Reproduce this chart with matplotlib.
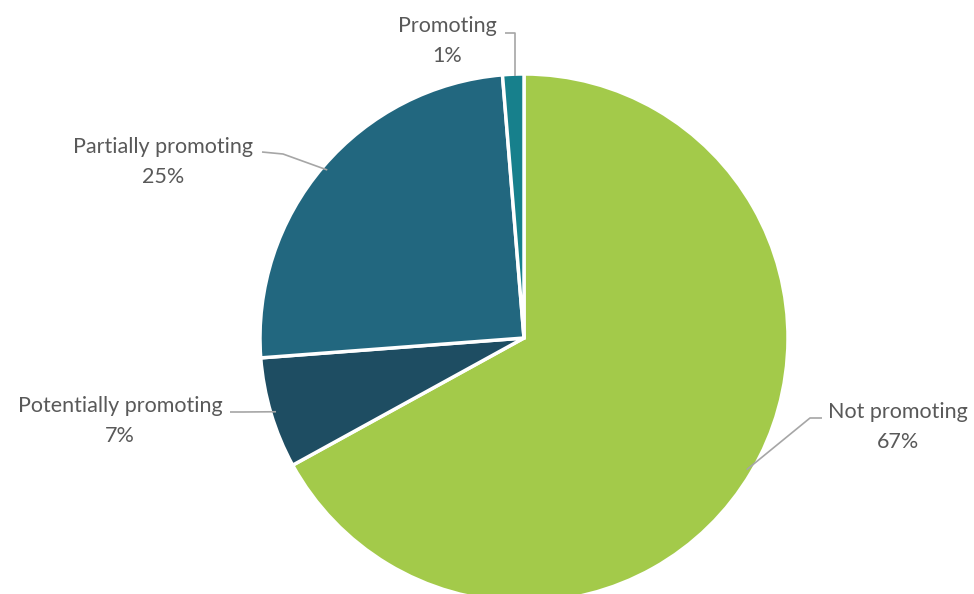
import numpy as np
import matplotlib
matplotlib.use("Agg")
import matplotlib.pyplot as plt

# slices, clockwise from 12 o'clock
labels = ["Not promoting", "Potentially promoting", "Partially promoting", "Promoting"]
values = [67.0, 6.8, 24.9, 1.3]
colors = ["#A3CA4A", "#1E4D62", "#22677F", "#17808C"]

plt.rcParams['font.family'] = ['Lato', 'DejaVu Sans']

fig = plt.figure(figsize=(9.74, 5.94), dpi=100)
ax = fig.add_axes([0, 0, 1, 1])

cx, cy, r = 524, 256, 264
wedges, _ = ax.pie(values, colors=colors, startangle=90, counterclock=False,
                   radius=r, center=(cx, cy),
                   wedgeprops=dict(edgecolor="white", linewidth=2.5))
ax.set_xlim(0, 974)
ax.set_ylim(0, 594)
ax.set_aspect("equal")
ax.axis("off")

# label text position (centre of two lines) and leader elbow
text_pos = [(898, 167), (120, 173), (163, 432), (447, 553)]
elbows = [[(822, 176), (810, 176)],
          [(230, 182), (243, 182)],
          [(262, 442), (283, 440)],
          [(505, 561), (515, 561)]]

for w, lab, v, tp, el in zip(wedges, labels, values, text_pos, elbows):
    ang = np.deg2rad((w.theta1 + w.theta2) / 2)
    ex = cx + r * np.cos(ang) * 0.98
    ey = cy + r * np.sin(ang) * 0.98
    if lab == "Promoting":
        ex, ey = el[1][0], cy + r * np.sin(ang) - 2
    xs = [el[0][0], el[1][0], ex]
    ys = [el[0][1], el[1][1], ey]
    ax.plot(xs, ys, color="#A6A6A6", lw=1.2, solid_capstyle="butt")
    ax.text(tp[0], tp[1], "%s\n%d%%" % (lab, round(v)), ha="center", va="center",
            fontsize=15.5, color="#595959", linespacing=1.6)

fig.savefig("out.png", dpi=100)
